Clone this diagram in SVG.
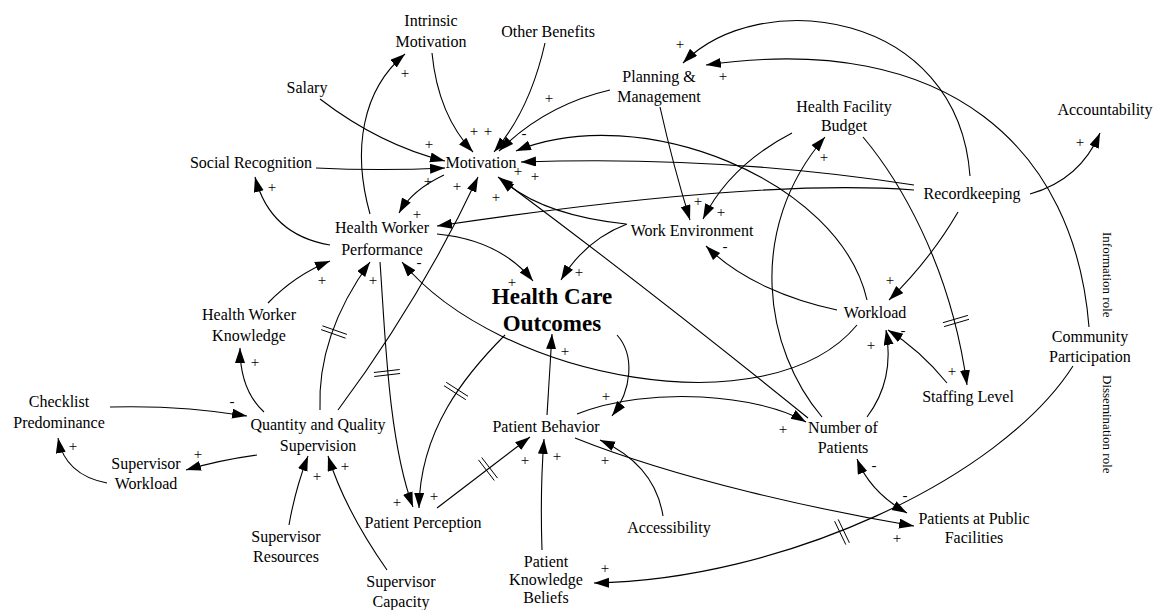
<svg xmlns="http://www.w3.org/2000/svg" width="1154" height="610" viewBox="0 0 1154 610">
<style>
text{font-family:'Liberation Serif','DejaVu Serif',serif;fill:#000}
.n{font-size:16px;text-anchor:middle}
.b{font-weight:bold;font-size:23px}
.p text{font-size:15px;text-anchor:middle}
.v{font-size:13px}
#connectors path{fill:none;stroke:#000;stroke-width:1.1}
#connectors .a{marker-end:url(#ah)}
#delays path{fill:none;stroke:#000;stroke-width:1}
</style>
<defs>
<marker id="ah" markerUnits="userSpaceOnUse" markerWidth="16" markerHeight="12" refX="15" refY="5" orient="auto"><path d="M0,0 L15,5 L0,10 z" fill="#000"/></marker>
<marker id="as" markerUnits="userSpaceOnUse" markerWidth="16" markerHeight="12" refX="15" refY="5" orient="auto-start-reverse"><path d="M0,0 L15,5 L0,10 z" fill="#000"/></marker>
</defs>
<rect width="1154" height="610" fill="#fff"/>
<g id="connectors">
<path class="a" d="M320,99 Q380,145 445,161"/>
<path class="a" d="M316,168 Q380,171 445,168"/>
<path class="a" d="M432,53 Q438,115 473,152"/>
<path class="a" d="M545,43 Q530,110 494,152"/>
<path class="a" d="M610,90 Q545,105 499,151"/>
<path class="a" d="M867,300 C840,180 640,100 516,151"/>
<path class="a" d="M914,185 Q720,155 521,162"/>
<path class="a" d="M914,190 Q760,178 437,226"/>
<path class="a" d="M626,224 Q540,215 500,178"/>
<path class="a" d="M808,418 Q650,290 498,177"/>
<path class="a" d="M338,410 Q420,300 478,177"/>
<path class="a" d="M444,175 Q412,190 399,213"/>
<path class="a" d="M370,214 C352,150 362,90 405,54"/>
<path class="a" d="M330,245 Q270,235 255,177"/>
<path class="a" d="M268,303 Q295,275 330,261"/>
<path class="a" d="M320,410 C318,360 335,310 370,262"/>
<path class="a" d="M264,412 Q240,390 240,348"/>
<path class="a" d="M380,262 C385,330 388,440 413,507"/>
<path class="a" d="M505,335 C465,375 420,430 419,508"/>
<path class="a" d="M437,508 L530,437"/>
<path class="a" d="M542,550 Q540,490 544,439"/>
<path class="a" d="M663,516 Q655,465 600,440"/>
<path class="a" d="M547,415 L552,334"/>
<path class="a" d="M617,335 C635,355 632,390 612,416"/>
<path class="a" d="M577,414 C650,385 760,395 806,422"/>
<path class="a" d="M575,438 C680,480 820,510 914,526"/>
<path d="M857,459 Q870,492 907,513" marker-start="url(#as)" marker-end="url(#ah)"/>
<path class="a" d="M1073,366 C1000,480 780,580 594,583"/>
<path class="a" d="M1030,194 Q1080,180 1100,133"/>
<path class="a" d="M970,176 C958,10 760,-15 683,63"/>
<path class="a" d="M1089,327 C1075,150 950,30 706,65"/>
<path class="a" d="M660,107 Q673,165 690,220"/>
<path class="a" d="M792,133 Q730,165 703,219"/>
<path class="a" d="M822,417 C765,350 745,230 825,137"/>
<path class="a" d="M863,137 C895,175 950,260 967,385"/>
<path class="a" d="M947,383 Q920,350 888,330"/>
<path class="a" d="M867,417 Q895,380 886,330"/>
<path class="a" d="M958,212 Q930,260 889,300"/>
<path class="a" d="M837,310 C790,300 740,280 706,246"/>
<path class="a" d="M857,325 C770,430 500,380 402,262"/>
<path class="a" d="M627,224 Q585,240 561,280"/>
<path class="a" d="M437,234 Q500,240 533,281"/>
<path class="a" d="M110,407 Q180,405 247,416"/>
<path class="a" d="M257,455 Q220,460 186,470"/>
<path class="a" d="M107,483 Q65,475 58,438"/>
<path class="a" d="M289,525 Q295,490 308,456"/>
<path class="a" d="M387,570 Q345,510 328,456"/>
<g id="delays">
<path d="M322.4,325.8 L346.9,334.4 M321.1,329.6 L345.6,338.2"/>
<path d="M374.3,376.5 L400.1,373.5 M373.9,372.5 L399.7,369.5"/>
<path d="M446.2,382.3 L468.0,396.3 M444.0,385.7 L465.8,399.7"/>
<path d="M481.7,457.5 L497.5,478.1 M478.5,459.9 L494.3,480.5"/>
<path d="M944.1,326.6 L969.0,319.3 M942.9,322.7 L967.9,315.4"/>
<path d="M838.2,519.4 L849.4,542.8 M834.6,521.2 L845.8,544.6"/>
</g>
<g id="polarity" class="p">
<text x="429" y="149">+</text>
<text x="428" y="186">+</text>
<text x="474" y="136">+</text>
<text x="488" y="136">+</text>
<text x="549" y="103">+</text>
<text x="524" y="138">-</text>
<text x="518" y="176">+</text>
<text x="535" y="181">+</text>
<text x="496" y="202">+</text>
<text x="457" y="191">+</text>
<text x="417" y="219">+</text>
<text x="405" y="78">+</text>
<text x="272" y="192">+</text>
<text x="322" y="285">+</text>
<text x="373" y="285">+</text>
<text x="255" y="367">+</text>
<text x="232" y="406">-</text>
<text x="198" y="459">+</text>
<text x="73" y="451">+</text>
<text x="317" y="481">+</text>
<text x="345" y="471">+</text>
<text x="397" y="507">+</text>
<text x="434" y="501">+</text>
<text x="525" y="465">+</text>
<text x="557" y="461">+</text>
<text x="605" y="465">+</text>
<text x="565" y="356">+</text>
<text x="606" y="401">+</text>
<text x="783" y="434">+</text>
<text x="897" y="543">+</text>
<text x="874" y="470">-</text>
<text x="905" y="500">-</text>
<text x="605" y="573">+</text>
<text x="419" y="267">-</text>
<text x="512" y="287">+</text>
<text x="579" y="277">+</text>
<text x="698" y="206">+</text>
<text x="721" y="217">+</text>
<text x="725" y="251">-</text>
<text x="824" y="162">+</text>
<text x="890" y="285">+</text>
<text x="871" y="350">+</text>
<text x="903" y="335">-</text>
<text x="952" y="376">+</text>
<text x="1080" y="147">+</text>
<text x="680" y="49">+</text>
<text x="723" y="81">+</text>
</g>
</g>
<g id="intrinsic-motivation"><text class="n"><tspan x="431" y="26">Intrinsic</tspan><tspan x="431" y="47">Motivation</tspan></text></g>
<g id="other-benefits"><text class="n" x="548" y="37">Other Benefits</text></g>
<g id="salary"><text class="n" x="307" y="93">Salary</text></g>
<g id="planning-management"><text class="n"><tspan x="659" y="82">Planning &amp;</tspan><tspan x="659" y="102">Management</tspan></text></g>
<g id="motivation"><text class="n" x="481" y="168">Motivation</text></g>
<g id="social-recognition"><text class="n" x="251" y="168">Social Recognition</text></g>
<g id="health-facility-budget"><text class="n"><tspan x="844" y="112">Health Facility</tspan><tspan x="844" y="131">Budget</tspan></text></g>
<g id="accountability"><text class="n" x="1105" y="115">Accountability</text></g>
<g id="recordkeeping"><text class="n" x="972" y="199">Recordkeeping</text></g>
<g id="health-worker-performance"><text class="n"><tspan x="382" y="233">Health Worker</tspan><tspan x="382" y="255">Performance</tspan></text></g>
<g id="work-environment"><text class="n" x="692" y="236">Work Environment</text></g>
<g id="health-care-outcomes"><text class="n b"><tspan x="552" y="304">Health Care</tspan><tspan x="552" y="331">Outcomes</tspan></text></g>
<g id="workload"><text class="n" x="875" y="318">Workload</text></g>
<g id="staffing-level"><text class="n" x="968" y="402">Staffing Level</text></g>
<g id="community-participation"><text class="n"><tspan x="1090" y="342">Community</tspan><tspan x="1090" y="362">Participation</tspan></text></g>
<g id="role-labels"><text class="v" transform="translate(1103,232) rotate(90)">Information role</text><text class="v" transform="translate(1103,375) rotate(90)">Dissemination role</text></g>
<g id="health-worker-knowledge"><text class="n"><tspan x="249" y="320">Health Worker</tspan><tspan x="249" y="341">Knowledge</tspan></text></g>
<g id="checklist-predominance"><text class="n"><tspan x="59" y="407">Checklist</tspan><tspan x="59" y="428">Predominance</tspan></text></g>
<g id="quantity-quality-supervision"><text class="n"><tspan x="318" y="430">Quantity and Quality</tspan><tspan x="318" y="451">Supervision</tspan></text></g>
<g id="supervisor-workload"><text class="n"><tspan x="146" y="469">Supervisor</tspan><tspan x="146" y="489">Workload</tspan></text></g>
<g id="supervisor-resources"><text class="n"><tspan x="286" y="542">Supervisor</tspan><tspan x="286" y="562">Resources</tspan></text></g>
<g id="supervisor-capacity"><text class="n"><tspan x="401" y="587">Supervisor</tspan><tspan x="401" y="607">Capacity</tspan></text></g>
<g id="patient-perception"><text class="n" x="423" y="528">Patient Perception</text></g>
<g id="patient-behavior"><text class="n" x="546" y="432">Patient Behavior</text></g>
<g id="accessibility"><text class="n" x="669" y="533">Accessibility</text></g>
<g id="patient-knowledge-beliefs"><text class="n"><tspan x="546" y="567">Patient</tspan><tspan x="546" y="585">Knowledge</tspan><tspan x="546" y="603">Beliefs</tspan></text></g>
<g id="number-of-patients"><text class="n"><tspan x="843" y="433">Number of</tspan><tspan x="843" y="453">Patients</tspan></text></g>
<g id="patients-public-facilities"><text class="n"><tspan x="974" y="524">Patients at Public</tspan><tspan x="974" y="543">Facilities</tspan></text></g>
</svg>
